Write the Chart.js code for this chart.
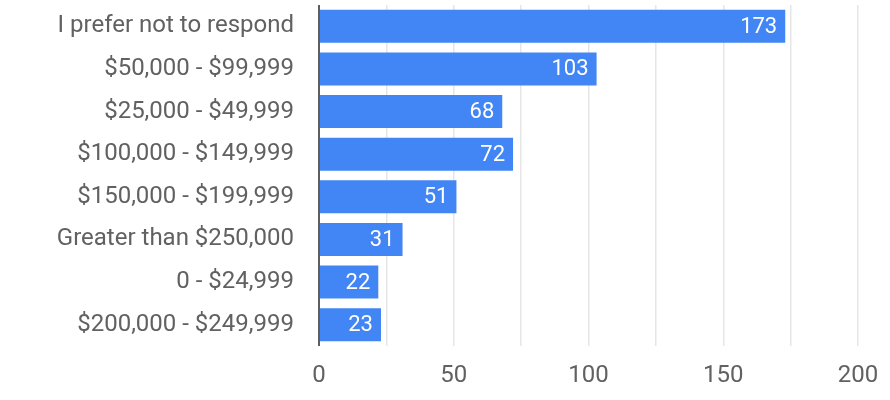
<!DOCTYPE html>
<html>
<head>
<meta charset="utf-8">
<script src="https://cdn.jsdelivr.net/npm/chart.js@4"></script>
<style>
  html, body { margin: 0; padding: 0; background: #fff; }
  #wrap { width: 890px; height: 400px; }
</style>
</head>
<body>
<div id="wrap"><canvas id="myChart" width="890" height="400"></canvas></div>
<script>
const categorias = [
    'I prefer not to respond',
    '$50,000 - $99,999',
    '$25,000 - $49,999',
    '$100,000 - $149,999',
    '$150,000 - $199,999',
    'Greater than $250,000',
    '0 - $24,999',
    '$200,000 - $249,999'
];
const respuestas = [173, 103, 68, 72, 51, 31, 22, 23];
const xTicks = [0, 50, 100, 150, 200];

// etiquetas blancas al final de cada barra
const etiquetasBarras = {
    id: 'etiquetasBarras',
    afterDatasetsDraw(chart) {
        const ctx = chart.ctx;
        const meta = chart.getDatasetMeta(0);
        ctx.save();
        ctx.font = '22px Roboto';
        ctx.fillStyle = '#ffffff';
        ctx.textAlign = 'right';
        ctx.textBaseline = 'middle';
        meta.data.forEach((bar, i) => {
            ctx.fillText(String(respuestas[i]), bar.x - 8, bar.y + 1);
        });
        ctx.restore();
    }
};

const ctx = document.getElementById('myChart').getContext('2d');
new Chart(ctx, {
    type: 'bar',
    data: {
        labels: categorias,
        datasets: [{
            data: respuestas,
            backgroundColor: '#4285f4',
            borderWidth: 0,
            categoryPercentage: 1,
            barPercentage: 0.775
        }]
    },
    options: {
        indexAxis: 'y',
        responsive: false,
        animation: false,
        layout: { padding: { left: 0, right: 32, top: 5, bottom: 0 } },
        plugins: { legend: { display: false }, tooltip: { enabled: false } },
        scales: {
            x: {
                min: 0,
                max: 200,
                afterBuildTicks: s => {
                    s.ticks = [];
                    for (let v = 0; v <= 200; v += 25) s.ticks.push({ value: v });
                },
                ticks: {
                    callback: v => xTicks.includes(v) ? String(v) : '',
                    font: { family: 'Roboto', size: 24 },
                    color: '#616161',
                    padding: 16,
                    maxRotation: 0,
                    autoSkip: false
                },
                grid: {
                    color: ctx => ctx.tick && ctx.tick.value === 0 ? '#5f5f5f' : '#e6e6e6',
                    lineWidth: ctx => ctx.tick && ctx.tick.value === 0 ? 2 : 1.5,
                    drawTicks: false
                },
                border: { display: false },
                afterFit: s => {
                    s.height = 54;
                    s.paddingLeft = 0;
                    s.paddingRight = 0;
                }
            },
            y: {
                ticks: {
                    font: { family: 'Roboto', size: 24 },
                    color: '#616161',
                    padding: 25,
                    autoSkip: false
                },
                grid: { display: false, drawTicks: false },
                border: { display: false },
                afterFit: s => {
                    s.width = 319;
                    s.paddingTop = 0;
                    s.paddingBottom = 0;
                }
            }
        }
    },
    plugins: [etiquetasBarras]
});
</script>
</body>
</html>
